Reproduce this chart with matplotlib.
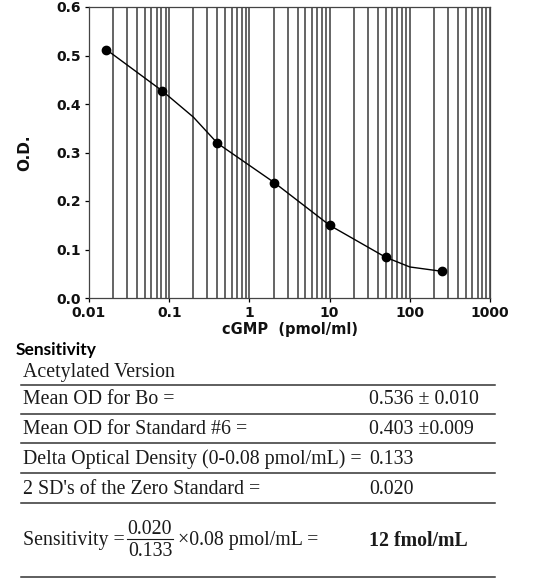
import matplotlib
matplotlib.use("Agg")
from matplotlib import pyplot as plt
from matplotlib.lines import Line2D
from matplotlib.ticker import LogLocator, FixedLocator, FixedFormatter, NullFormatter

# standard curve
conc = [0.0165, 0.082, 0.40, 2.04, 10.0, 50.0, 252.0]
od = [0.512, 0.427, 0.319, 0.238, 0.150, 0.084, 0.055]
# fitted line drawn through the points
fit_x = [0.0165, 0.082, 0.20, 0.40, 2.04, 10.0, 50.0, 100.0, 252.0]
fit_y = [0.512, 0.427, 0.373, 0.319, 0.238, 0.150, 0.084, 0.064, 0.055]

x_ticks = [0.01, 0.1, 1, 10, 100, 1000]
x_labels = ["0.01", "0.1", "1", "10", "100", "1000"]
y_ticks = [0.0, 0.1, 0.2, 0.3, 0.4, 0.5, 0.6]
y_labels = ["0.0", "0.1", "0.2", "0.3", "0.4", "0.5", "0.6"]

# sensitivity table
table_title = "Acetylated Version"
row_labels = ["Mean OD for Bo =", "Mean OD for Standard #6 =",
              "Delta Optical Density (0-0.08 pmol/mL) =", "2 SD's of the Zero Standard ="]
row_values = ["0.536 \u00b1 0.010", "0.403 \u00b10.009", "0.133", "0.020"]
frac_num = "0.020"
frac_den = "0.133"
sens_result = "12 fmol/mL"

W, H = 533, 581
fig = plt.figure(figsize=(W / 100, H / 100), dpi=100)


def fx(px):
    return px / W


def fy(py):
    return 1 - py / H


ax = fig.add_axes([fx(89), fy(298), fx(490) - fx(89), fy(7) - fy(298)])
ax.set_xscale("log")
ax.set_xlim(0.01, 1000)
ax.set_ylim(0, 0.6)

ax.xaxis.set_minor_locator(LogLocator(base=10, subs=range(2, 10)))
ax.xaxis.set_minor_formatter(NullFormatter())
ax.xaxis.set_major_locator(FixedLocator(x_ticks))
ax.xaxis.set_major_formatter(FixedFormatter(x_labels))
ax.set_yticks(y_ticks)
ax.set_yticklabels(y_labels)
ax.grid(True, axis="x", which="both", color="#4a4a4a", lw=1.2)
ax.set_axisbelow(True)

ax.plot(fit_x, fit_y, color="black", lw=1.0, zorder=3)
ax.plot(conc, od, "o", color="black", ms=6, zorder=4)

ax.tick_params(axis="both", which="major", length=3, width=0.9, direction="out", pad=3)
ax.tick_params(axis="x", which="minor", length=0)
for lab in ax.get_xticklabels() + ax.get_yticklabels():
    lab.set_fontweight("bold")
    lab.set_fontsize(10)
    lab.set_color("#111111")
for sp in ax.spines.values():
    sp.set_color("#444444")
    sp.set_linewidth(0.9)

ax.set_xlabel("cGMP  (pmol/ml)", fontsize=10.5, fontweight="bold", color="#111111", labelpad=1)
ax.set_ylabel("O.D.", fontsize=11, fontweight="bold", color="#111111", labelpad=17)

# Sensitivity section
fig.text(fx(16), fy(350), "Sensitivity", fontsize=12.5, fontweight="bold",
         family="Lato", va="center", ha="left")

serif = "Liberation Serif"
fs = 14.3
tc = "#1a1a1a"
fig.text(fx(23), fy(373), table_title, fontsize=fs, family=serif, va="center", color=tc)
row_y = [400, 429, 459, 489]
line_y = [385, 414, 443, 473, 503, 577]
for lab, val, ry in zip(row_labels, row_values, row_y):
    fig.text(fx(23), fy(ry), lab, fontsize=fs, family=serif, va="center", color=tc)
    fig.text(fx(369), fy(ry), val, fontsize=fs, family=serif, va="center", color=tc)
for ly in line_y:
    fig.add_artist(Line2D([fx(21), fx(495)], [fy(ly), fy(ly)], color="#333333", lw=1.1))

fig.text(fx(23), fy(541), "Sensitivity =", fontsize=fs, family=serif, va="center", color=tc)
fig.text(fx(150), fy(529), frac_num, fontsize=fs, family=serif, va="center", ha="center", color=tc)
fig.text(fx(150), fy(551), frac_den, fontsize=fs, family=serif, va="center", ha="center", color=tc)
fig.add_artist(Line2D([fx(127), fx(173)], [fy(539), fy(539)], color=tc, lw=0.8))
fig.text(fx(178), fy(541), "\u00d70.08 pmol/mL =", fontsize=fs, family=serif, va="center", color=tc)
fig.text(fx(369), fy(541), sens_result, fontsize=fs, family=serif, fontweight="bold",
         va="center", color=tc)

fig.savefig("out.png", dpi=100)
